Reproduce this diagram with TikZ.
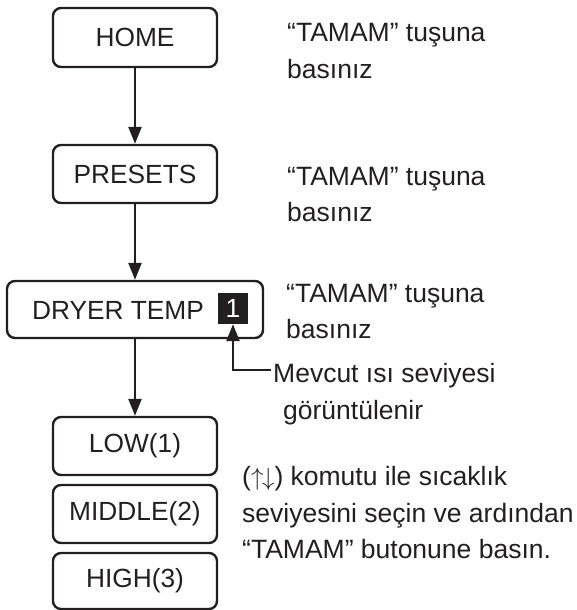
\documentclass[tikz,border=0pt]{standalone}
\usepackage{fontspec}
\setmainfont{Liberation Sans}
\usetikzlibrary{arrows.meta}
\definecolor{ink}{HTML}{231F20}
\begin{document}
\begin{tikzpicture}[x=1pt,y=-1pt,
  box/.style={draw=ink, line width=2.4pt, rounded corners=8pt, minimum width=164pt, minimum height=58pt, inner sep=0pt, font=\fontsize{26.3}{30}\selectfont, text=ink},
  arr/.style={draw=ink, line width=2.4pt, -{Triangle[length=17pt,width=13pt]}},
  txt/.style={anchor=base west, inner sep=0pt, font=\fontsize{26.5}{30}\selectfont, text=ink}]
\useasboundingbox (0,0) rectangle (577,610);
% boxes
\node[box, minimum height=59pt] (home) at (135,37.5) {HOME};
\node[box] (presets) at (135,174) {PRESETS};
\node[box, minimum width=256pt, minimum height=57pt] (dryer) at (135,309.5) {};
\node[txt, anchor=center, font=\fontsize{26.3}{30}\selectfont] (dryertxt) at (118,310) {DRYER TEMP};
\node[fill=ink, text=white, minimum width=30pt, minimum height=31pt, inner sep=0pt, font=\fontsize{26.3}{30}\selectfont] (ind) at (233,308.5) {1};
\node[box] (low) at (135,446) {LOW(1)};
\node[box] (middle) at (135,514) {MIDDLE(2)};
\node[box, minimum height=56pt] (high) at (135,581) {HIGH(3)};
% connectors
\draw[arr] (home) -- (presets);
\draw[arr] (presets) -- (dryer);
\draw[arr] (dryer) -- (low);
\coordinate (cstart) at (271,370);
\draw[arr] (cstart) -| (ind.south);
% texts
\node[txt] (t1a) at (287,42) {“TAMAM” tuşuna};
\node[txt] (t1b) at (287,78) {basınız};
\node[txt] (t2a) at (287,185) {“TAMAM” tuşuna};
\node[txt] (t2b) at (287,221) {basınız};
\node[txt] (t3a) at (286,302) {“TAMAM” tuşuna};
\node[txt] (t3b) at (286,338) {basınız};
\node[txt] (t4a) at (273,382) {Mevcut ısı seviyesi};
\node[txt] (t4b) at (283,419) {görüntülenir};
\node[txt] (t5a) at (242,485) {($\uparrow\mkern-1mu\downarrow$) komutu ile sıcaklık};
\node[txt] (t5b) at (242,522) {seviyesini seçin ve ardından};
\node[txt] (t5c) at (242,558) {“TAMAM” butonune basın.};
\end{tikzpicture}
\end{document}
